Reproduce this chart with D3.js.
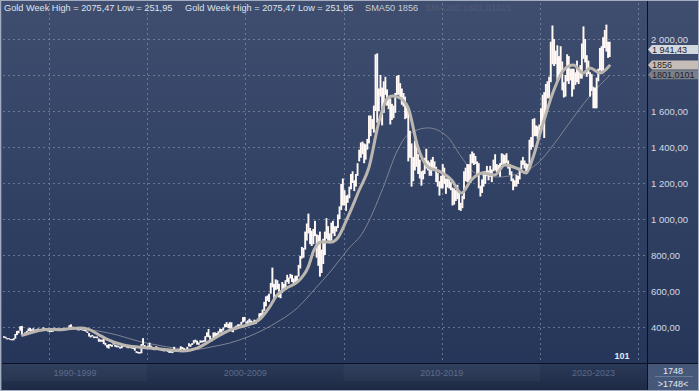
<!DOCTYPE html>
<html>
<head>
<meta charset="utf-8">
<script src="https://cdn.jsdelivr.net/npm/d3@7"></script>
<style>
  body { margin: 0; background: #2a3a5a; }
  svg { display: block; font-family: "Liberation Sans", Arial, sans-serif; }
</style>
</head>
<body>
<svg width="699" height="391"></svg>
<script>
// monthly low / high of the weekly gold bars, starting Sep 1992
const low1990s = [
  340, 337, 331, 332,
  327, 326, 326, 335, 355, 365, 380, 355, 350, 356, 367, 376,
  377, 375, 378, 371, 375, 378, 381, 377, 385, 383, 382, 375,
  371, 372, 374, 389, 383, 384, 383, 381, 382, 381, 383, 385,
  388, 395, 393, 390, 389, 382, 381, 384, 380, 378, 375, 367,
  347, 342, 347, 338, 339, 337, 318, 318, 318, 305, 298, 285,
  280, 294, 290, 302, 290, 287, 287, 280, 282, 291, 290, 285,
  282, 284, 280, 278, 268, 256, 253, 252, 254, 297, 287, 280
];
const high1990s = [
  349, 346, 338, 338,
  334, 333, 338, 361, 378, 380, 404, 406, 362, 370, 378, 392,
  395, 387, 393, 385, 388, 392, 389, 386, 398, 394, 392, 384,
  381, 380, 392, 396, 392, 392, 390, 389, 387, 387, 390, 392,
  410, 415, 402, 398, 395, 390, 387, 390, 386, 385, 386, 376,
  366, 353, 356, 348, 347, 347, 336, 330, 330, 333, 312, 300,
  305, 305, 301, 313, 302, 298, 296, 290, 299, 300, 300, 296,
  291, 292, 290, 288, 289, 266, 262, 261, 305, 338, 300, 291
];
const low2000s = [
  282, 284, 278, 274, 271, 281, 276, 271, 269, 266, 264, 268,
  262, 256, 257, 255, 264, 265, 264, 268, 271, 277, 272, 272,
  277, 292, 290, 300, 308, 315, 302, 301, 312, 314, 316, 318,
  345, 343, 325, 320, 334, 343, 342, 355, 369, 369, 380, 398,
  399, 394, 390, 375, 371, 383, 387, 391, 398, 412, 425, 430,
  419, 411, 425, 420, 414, 415, 418, 428, 440, 461, 459, 490,
  515, 545, 539, 585, 620, 543, 605, 610, 565, 560, 590, 610,
  605, 650, 640, 670, 650, 640, 650, 650, 680, 725, 780, 785,
  830, 880, 920, 860, 850, 860, 905, 785, 740, 680, 700, 750,
  800, 890, 880, 865, 880, 920, 905, 930, 950, 1000, 1050, 1075
];
const high2000s = [
  297, 313, 296, 287, 283, 293, 288, 279, 278, 274, 271, 274,
  270, 269, 268, 264, 290, 279, 272, 278, 293, 289, 283, 278,
  290, 310, 304, 310, 327, 330, 324, 314, 326, 324, 327, 349,
  370, 389, 352, 336, 370, 370, 367, 376, 391, 389, 398, 417,
  427, 418, 427, 426, 393, 402, 408, 415, 415, 429, 455, 456,
  430, 437, 446, 436, 431, 441, 437, 447, 476, 478, 497, 540,
  570, 575, 585, 645, 730, 640, 665, 660, 640, 600, 650, 640,
  660, 690, 675, 695, 690, 670, 685, 685, 745, 795, 845, 840,
  930, 975, 1030, 950, 935, 945, 990, 915, 910, 930, 830, 890,
  930, 1005, 960, 920, 980, 990, 960, 960, 1025, 1070, 1195, 1225
];
const low2010s = [
  1075, 1045, 1090, 1115, 1165, 1200, 1155, 1180, 1240, 1320, 1340, 1360,
  1310, 1330, 1385, 1420, 1460, 1500, 1480, 1600, 1535, 1600, 1680, 1520,
  1590, 1690, 1630, 1610, 1525, 1550, 1560, 1590, 1690, 1690, 1670, 1635,
  1625, 1555, 1560, 1320, 1340, 1180, 1210, 1270, 1290, 1250, 1225, 1185,
  1220, 1250, 1280, 1270, 1240, 1240, 1280, 1275, 1205, 1180, 1130, 1170,
  1170, 1195, 1140, 1175, 1170, 1160, 1075, 1080, 1100, 1110, 1050, 1045,
  1060, 1110, 1210, 1205, 1200, 1200, 1310, 1300, 1305, 1240, 1170, 1125,
  1145, 1180, 1195, 1240, 1215, 1235, 1205, 1265, 1270, 1260, 1265, 1235,
  1300, 1305, 1305, 1310, 1280, 1245, 1210, 1160, 1180, 1180, 1195, 1220,
  1275, 1300, 1280, 1265, 1265, 1275, 1385, 1400, 1460, 1460, 1445, 1455
];
const high2010s = [
  1160, 1130, 1135, 1180, 1250, 1265, 1215, 1250, 1310, 1385, 1425, 1430,
  1420, 1415, 1445, 1575, 1575, 1555, 1630, 1915, 1920, 1725, 1800, 1730,
  1765, 1790, 1720, 1680, 1670, 1640, 1630, 1700, 1795, 1800, 1755, 1725,
  1700, 1680, 1620, 1600, 1490, 1420, 1345, 1435, 1435, 1360, 1330, 1265,
  1270, 1340, 1390, 1325, 1315, 1330, 1345, 1320, 1290, 1255, 1210, 1240,
  1305, 1285, 1225, 1225, 1235, 1205, 1175, 1170, 1160, 1190, 1145, 1090,
  1130, 1265, 1285, 1305, 1305, 1360, 1375, 1365, 1350, 1320, 1310, 1185,
  1220, 1265, 1265, 1295, 1270, 1295, 1275, 1330, 1360, 1305, 1300, 1310,
  1365, 1360, 1355, 1365, 1325, 1305, 1265, 1225, 1215, 1245, 1240, 1285,
  1325, 1345, 1325, 1310, 1305, 1440, 1455, 1555, 1560, 1520, 1515, 1525
];
const low2020s = [
  1515, 1545, 1450, 1570, 1670, 1670, 1760, 1860, 1850, 1860, 1765, 1775,
  1800, 1715, 1675, 1680, 1765, 1750, 1770, 1680, 1720, 1745, 1760, 1750,
  1780, 1780, 1890, 1870, 1790, 1805, 1680, 1710, 1615, 1615, 1615, 1765,
  1825, 1805, 1810, 1950, 1930, 1895, 1900
];
const high2020s = [
  1615, 1690, 1705, 1750, 1765, 1790, 1985, 2075, 2000, 1935, 1965, 1905,
  1960, 1875, 1760, 1800, 1915, 1905, 1835, 1835, 1835, 1815, 1880, 1830,
  1855, 1975, 2070, 2000, 1910, 1880, 1815, 1805, 1735, 1730, 1785, 1835,
  1950, 1960, 2010, 2050, 2080, 1985, 1985
];

// moving averages (decimal year, value)
const sma50Years = [1993.6, 1994.0, 1994.5, 1995.0, 1995.5, 1996.0, 1996.6, 1997.0, 1997.5, 1998.0,
  1998.8, 1999.6, 2000.4, 2001.2, 2001.84, 2002.55, 2003.4, 2004.2, 2005.1, 2005.7,
  2006.2, 2006.6, 2007.1, 2007.65, 2008.2, 2008.5, 2008.85, 2009.4, 2009.7, 2010.2,
  2010.8, 2011.3, 2011.8, 2012.25, 2012.5, 2012.75, 2013.27, 2013.78, 2014.3, 2014.95,
  2015.5, 2016.0, 2016.5, 2017.05, 2017.7, 2018.2, 2018.8, 2019.3, 2019.6, 2020.1,
  2020.65, 2021.2, 2021.7, 2022.2, 2022.55, 2023.06, 2023.57];
const sma50Values = [352, 365, 381, 386, 385, 390, 394, 388, 360, 330,
  300, 288, 281, 272, 267, 283, 335, 383, 411, 439,
  505, 575, 617, 650, 733, 828, 872, 872, 894, 1006,
  1161, 1289, 1539, 1672, 1683, 1678, 1622, 1400, 1289, 1261,
  1217, 1144, 1217, 1256, 1244, 1300, 1283, 1256, 1328, 1511,
  1700, 1828, 1856, 1811, 1839, 1811, 1856];
const sma200Years = [1996.8, 1997.5, 1998.5, 1999.6, 2000.5, 2001.5, 2002.5, 2003.3, 2004.2, 2005.1,
  2005.9, 2006.8, 2007.65, 2008.5, 2009.4, 2010.2, 2011.0, 2012.0, 2012.75, 2013.27,
  2014.3, 2015.3, 2016.0, 2016.7, 2017.85, 2019.0, 2019.9, 2020.75, 2021.6, 2022.5, 2023.57];
const sma200Values = [389, 378, 355, 320, 300, 282, 276, 290, 311, 344,
  383, 439, 506, 606, 717, 828, 928, 1170, 1383, 1467,
  1506, 1456, 1344, 1256, 1233, 1256, 1311, 1422, 1550, 1678, 1801];

const priceTicks = [400, 600, 800, 1000, 1200, 1400, 1600, 1800, 2000];
const gridYears = [1995, 2000, 2005, 2010, 2015, 2020, 2025];
const periodLabels = ['1990-1999', '2000-2009', '2010-2019', '2020-2023'];
const periodStarts = [1990, 2000, 2010, 2020];
const lastPrice = 1941.43;
const lastSma50 = 1856;
const lastSma200 = 1801.01015;
const barCount = 1748;
const visibleCount = 101;

const W = 699, H = 391;
const plot = { left: 3, right: 647, top: 3, bottom: 363 };

const lows = [].concat(low1990s, low2000s, low2010s, low2020s);
const highs = [].concat(high1990s, high2000s, high2010s, high2020s);
const bars = lows.map((lo, i) => ({ start: new Date(1992, 8 + i, 1), end: new Date(1992, 9 + i, 1), lo, hi: highs[i] }));

function yearDate(yv) {
  const yr = Math.floor(yv);
  const a = new Date(yr, 0, 1), b = new Date(yr + 1, 0, 1);
  return new Date(+a + (yv - yr) * (b - a));
}

const x = d3.scaleTime()
  .domain([new Date(1992, 8, 2), new Date(2025, 5, 12)])
  .range([plot.left, plot.right]);
const y = d3.scaleLinear()
  .domain([200, 2200])
  .range([plot.bottom, plot.top]);

const fmt = (v) => d3.format(',.2f')(v).replace(/,/g, ' ').replace('.', ',');

const svg = d3.select('svg');
const defs = svg.append('defs');

const bg = defs.append('linearGradient').attr('id', 'bg').attr('x1', 0).attr('y1', 0).attr('x2', 0).attr('y2', 1);
bg.append('stop').attr('offset', '0%').attr('stop-color', '#3f4e6f');
bg.append('stop').attr('offset', '100%').attr('stop-color', '#25365a');

const bot = defs.append('linearGradient').attr('id', 'bot').attr('x1', 0).attr('y1', 0).attr('x2', 0).attr('y2', 1);
bot.append('stop').attr('offset', '0%').attr('stop-color', '#2b3a59');
bot.append('stop').attr('offset', '100%').attr('stop-color', '#1d2a45');

defs.append('clipPath').attr('id', 'clip')
  .append('rect')
  .attr('x', plot.left).attr('y', plot.top)
  .attr('width', plot.right - plot.left).attr('height', plot.bottom - plot.top);

svg.append('rect').attr('width', W).attr('height', plot.bottom).attr('fill', 'url(#bg)');
svg.append('rect').attr('y', plot.bottom).attr('width', W).attr('height', H - plot.bottom).attr('fill', 'url(#bot)');

// period bands on the time axis
const bands = svg.append('g');
periodStarts.forEach((s, i) => {
  const x0 = Math.max(plot.left, x(new Date(s, 0, 1)));
  const x1 = Math.min(plot.right, x(new Date(s + 10, 0, 1)));
  if (i % 2 === 0) {
    bands.append('rect')
      .attr('x', x0).attr('y', plot.bottom + 1)
      .attr('width', x1 - x0).attr('height', 17)
      .attr('fill', '#ffffff').attr('opacity', 0.03);
  }
  bands.append('text')
    .attr('x', (x0 + x1) / 2).attr('y', plot.bottom + 13)
    .attr('text-anchor', 'middle')
    .attr('font-size', '9px')
    .attr('fill', '#5b6b8a')
    .text(periodLabels[i]);
});

// grid
const grid = svg.append('g')
  .attr('stroke', '#8d9bb6').attr('stroke-opacity', 0.6)
  .attr('stroke-dasharray', '2,3').attr('stroke-width', 1);
grid.selectAll('.gy').data(priceTicks).join('line')
  .attr('x1', plot.left).attr('x2', plot.right)
  .attr('y1', (d) => Math.round(y(d)) + 0.5).attr('y2', (d) => Math.round(y(d)) + 0.5);
grid.selectAll('.gx').data(gridYears).join('line')
  .attr('x1', (d) => Math.round(x(new Date(d, 0, 1))) + 0.5)
  .attr('x2', (d) => Math.round(x(new Date(d, 0, 1))) + 0.5)
  .attr('y1', plot.top).attr('y2', plot.bottom);

const chart = svg.append('g').attr('clip-path', 'url(#clip)');

chart.append('path')
  .datum(sma200Years.map((t, i) => [yearDate(t), sma200Values[i]]))
  .attr('fill', 'none').attr('stroke', '#7f8491').attr('stroke-width', 1)
  .attr('d', d3.line().x((d) => x(d[0])).y((d) => y(d[1])).curve(d3.curveMonotoneX));

chart.selectAll('.bar').data(bars).join('rect')
  .attr('x', (d) => x(d.start))
  .attr('width', (d) => x(d.end) - x(d.start) + 0.3)
  .attr('y', (d) => y(d.hi))
  .attr('height', (d) => Math.max(1, y(d.lo) - y(d.hi)))
  .attr('fill', '#fff8f4');

chart.append('path')
  .datum(sma50Years.map((t, i) => [yearDate(t), sma50Values[i]]))
  .attr('fill', 'none').attr('stroke', '#bcb6b0').attr('stroke-width', 3)
  .attr('stroke-linejoin', 'round')
  .attr('d', d3.line().x((d) => x(d[0])).y((d) => y(d[1])).curve(d3.curveMonotoneX));

// right price axis
const axis = svg.append('g')
  .attr('transform', `translate(${plot.right},0)`)
  .call(d3.axisRight(y).tickValues(priceTicks).tickSize(0).tickPadding(4).tickFormat(fmt));
axis.select('.domain').remove();
axis.selectAll('text')
  .attr('font-family', '"Liberation Sans", Arial, sans-serif')
  .attr('font-size', '9.5px').attr('fill', '#d3d9e4');
// the 1800 label sits under the value tags
axis.selectAll('.tick').filter((d) => d === 1800).remove();

// last value tags
const tags = [
  { v: lastSma200, text: '1801,0101', fill: '#7b7f88', color: '#1b2030' },
  { v: lastSma50, text: String(lastSma50), fill: '#c6beb6', color: '#1f1f24' },
  { v: lastPrice, text: fmt(lastPrice), fill: '#d3d7de', color: '#1c2436' }
];
const tagG = svg.append('g');
tags.forEach((t) => {
  const ty = y(t.v);
  tagG.append('path')
    .attr('d', `M${plot.right + 1},${ty} L${plot.right + 5},${ty - 4.5} L${W},${ty - 4.5} L${W},${ty + 4.5} L${plot.right + 5},${ty + 4.5} Z`)
    .attr('fill', t.fill);
  tagG.append('text')
    .attr('x', plot.right + 5).attr('y', ty + 3.3)
    .attr('font-size', '9px').attr('fill', t.color)
    .text(t.text);
});

// separators
svg.append('line').attr('x1', 0).attr('x2', W).attr('y1', plot.bottom + 0.5).attr('y2', plot.bottom + 0.5)
  .attr('stroke', '#0b1120');
svg.append('line').attr('x1', plot.right + 0.5).attr('x2', plot.right + 0.5).attr('y1', 0).attr('y2', H)
  .attr('stroke', '#0b1120');

// bar count box
svg.append('rect').attr('x', plot.right + 1).attr('y', plot.bottom + 1)
  .attr('width', W - plot.right - 1).attr('height', H - plot.bottom - 1)
  .attr('fill', '#46587a');
svg.append('line').attr('x1', plot.right + 8).attr('x2', W - 6)
  .attr('y1', plot.bottom + 13.5).attr('y2', plot.bottom + 13.5)
  .attr('stroke', '#6a7a98');
svg.append('text').attr('x', 673).attr('y', plot.bottom + 11)
  .attr('text-anchor', 'middle').attr('font-size', '9px').attr('fill', '#e4e8f0').text(String(barCount));
svg.append('text').attr('x', 673).attr('y', plot.bottom + 24)
  .attr('text-anchor', 'middle').attr('font-size', '9px').attr('fill', '#e4e8f0').text('>' + barCount + '<');

svg.append('text').attr('x', 622).attr('y', plot.bottom - 4)
  .attr('text-anchor', 'middle').attr('font-size', '9px').attr('font-weight', 'bold')
  .attr('fill', '#e6eaf1').text(String(visibleCount));

// legend
const legend = svg.append('g').attr('font-size', '9.2px');
legend.append('text').attr('x', 4).attr('y', 11).attr('fill', '#dfe4ee')
  .text('Gold Week High = 2075,47 Low = 251,95');
legend.append('text').attr('x', 185).attr('y', 11).attr('fill', '#dfe4ee')
  .text('Gold Week High = 2075,47 Low = 251,95');
legend.append('text').attr('x', 365).attr('y', 11).attr('fill', '#c9cdd5')
  .text('SMA50 ' + lastSma50);
legend.append('text').attr('x', 425).attr('y', 11).attr('fill', '#4f5b77')
  .text('SMA200 1801,01015');

// frame
svg.append('rect').attr('x', 0.5).attr('y', 0.5).attr('width', W - 1).attr('height', H - 1)
  .attr('fill', 'none').attr('stroke', '#a3adbf');
svg.append('line').attr('x1', 1.5).attr('x2', 1.5).attr('y1', 1).attr('y2', H - 1)
  .attr('stroke', '#56657f');
</script>
</body>
</html>
